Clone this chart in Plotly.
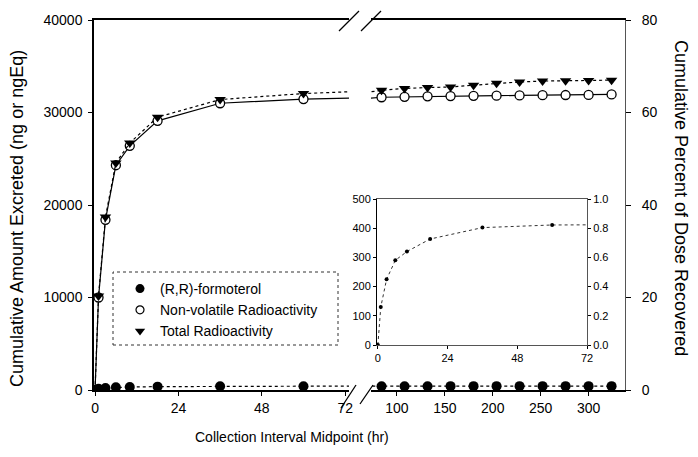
import plotly.graph_objects as go

# ---------------- data ----------------
TIME_H = [0, 1, 3, 6, 10, 18, 36, 60, 84, 108, 132, 156, 180, 204, 228, 252, 276, 300, 324]
FORMOTEROL_NG = [0, 130, 225, 290, 320, 363, 402, 411, 412, 413, 414, 415, 416, 416, 417, 417, 418, 418, 418]
NONVOLATILE_NGEQ = [0, 10000, 18400, 24300, 26400, 29100, 31000, 31450, 31650, 31700, 31750,
                    31780, 31800, 31820, 31850, 31870, 31890, 31900, 31950]
TOTAL_NGEQ = [0, 10150, 18700, 24550, 26700, 29500, 31400, 32050, 32400, 32600, 32700,
              32750, 32950, 33150, 33300, 33400, 33420, 33450, 33500]
DOSE_NGEQ = 50000

SERIES_NAMES = ["(R,R)-formoterol", "Non-volatile Radioactivity", "Total Radioactivity"]
LEFT_X_TICKS = [0, 24, 48, 72]
RIGHT_X_TICKS = [100, 150, 200, 250, 300]
Y_TICKS = [0, 10000, 20000, 30000, 40000]
INSET_X_TICKS = [0, 24, 48, 72]
INSET_Y_TICKS = [0, 100, 200, 300, 400, 500]

X_TITLE = "Collection Interval Midpoint (hr)"
Y_TITLE = "Cumulative Amount Excreted (ng or ngEq)"
Y2_TITLE = "Cumulative Percent of Dose Recovered"

# ---------------- layout geometry (pixels) ----------------
W, H = 698, 457
L, R, T, B = 94, 625, 20, 390
PW, PH = R - L, B - T


def px(x):
    return (x - L) / PW


def py(y):
    return (B - y) / PH


FONT = "Liberation Sans, Arial, sans-serif"
BLACK = "black"

fig = go.Figure()

# main panels: same series in both halves of the broken axis
for xa, ya in (("x", "y"), ("x2", "y2")):
    fig.add_trace(go.Scatter(
        x=TIME_H, y=NONVOLATILE_NGEQ, mode="lines+markers", xaxis=xa, yaxis=ya,
        line=dict(color=BLACK, width=1.2),
        marker=dict(symbol="circle", size=9, color="white", line=dict(color=BLACK, width=1.3)),
        showlegend=False))
    fig.add_trace(go.Scatter(
        x=TIME_H, y=TOTAL_NGEQ, mode="lines+markers", xaxis=xa, yaxis=ya,
        line=dict(color=BLACK, width=1.2, dash="dot"),
        marker=dict(symbol="triangle-down", size=10, color=BLACK),
        showlegend=False))
    fig.add_trace(go.Scatter(
        x=TIME_H, y=FORMOTEROL_NG, mode="lines+markers", xaxis=xa, yaxis=ya,
        line=dict(color=BLACK, width=1.2, dash="dot"),
        marker=dict(symbol="circle", size=10, color=BLACK),
        showlegend=False))

# inset: formoterol only (left scale ng, right scale % of dose share one range)
fig.add_trace(go.Scatter(
    x=TIME_H, y=FORMOTEROL_NG, mode="lines", xaxis="x3", yaxis="y3",
    line=dict(color="rgba(0,0,0,0)", width=0), hoverinfo="skip", showlegend=False))
fig.add_trace(go.Scatter(
    x=TIME_H, y=FORMOTEROL_NG, mode="lines+markers", xaxis="x3", yaxis="y4",
    line=dict(color="#333", width=1, dash="dot"),
    marker=dict(symbol="circle", size=4, color=BLACK),
    showlegend=False))

# legend entries (markers only)
legend_styles = [
    dict(symbol="circle", size=9, color=BLACK),
    dict(symbol="circle-open", size=8, color=BLACK, line=dict(width=1.2)),
    dict(symbol="triangle-down", size=9, color=BLACK),
]
for name, mk in zip(SERIES_NAMES, legend_styles):
    fig.add_trace(go.Scatter(x=[None], y=[None], mode="markers", name=name, marker=mk,
                             xaxis="x", yaxis="y", showlegend=True))

axis_common = dict(showgrid=False, zeroline=False, ticks="outside", linecolor=BLACK,
                   tickcolor=BLACK, tickfont=dict(family=FONT, size=14, color=BLACK))
inset_font = dict(family=FONT, size=11, color=BLACK)

pct_main = [f"{v / DOSE_NGEQ * 100:.0f}" for v in Y_TICKS]
pct_inset = [f"{v / DOSE_NGEQ * 100:.1f}" for v in INSET_Y_TICKS]

fig.update_layout(
    width=W, height=H,
    margin=dict(l=L, r=W - R, t=T, b=H - B),
    paper_bgcolor="white", plot_bgcolor="white",
    font=dict(family=FONT, color=BLACK),
    xaxis=dict(domain=[0, px(349)], anchor="y", range=[-0.3, 73.1], tickvals=LEFT_X_TICKS,
               showline=True, mirror=True, linewidth=1.5, ticklen=4, **axis_common),
    xaxis2=dict(domain=[px(371), 1], anchor="y2", range=[73, 338], tickvals=RIGHT_X_TICKS,
                showline=True, mirror=True, linewidth=1.5, ticklen=4, **axis_common),
    yaxis=dict(domain=[0, 1], anchor="x", range=[0, 40000], tickvals=Y_TICKS, tickformat="d",
               showline=True, linewidth=1.5, ticklen=4, ticklabelstandoff=3, **axis_common),
    yaxis2=dict(domain=[0, 1], anchor="x2", side="right", range=[0, 40000], tickvals=Y_TICKS,
                ticktext=pct_main, showline=True, linewidth=1, ticklen=5,
                ticklabelstandoff=8, **{**axis_common, "linecolor": "#555"}),
    xaxis3=dict(domain=[px(377), px(587)], anchor="y3", range=[-0.3, 72], tickvals=INSET_X_TICKS,
                showline=True, mirror=True, linewidth=1, ticklen=3,
                **{**axis_common, "linecolor": "#555", "tickfont": inset_font}),
    yaxis3=dict(domain=[py(345), py(199)], anchor="x3", range=[0, 500], tickvals=INSET_Y_TICKS,
                showline=True, linewidth=1, ticklen=3,
                **{**axis_common, "tickfont": inset_font}),
    yaxis4=dict(overlaying="y3", anchor="x3", side="right", range=[0, 500],
                tickvals=INSET_Y_TICKS, ticktext=pct_inset, showline=True, linewidth=1, ticklen=3,
                **{**axis_common, "linecolor": "#555", "tickfont": inset_font}),
    showlegend=True,
    legend=dict(x=px(120), y=py(273), xanchor="left", yanchor="top",
                bgcolor="rgba(0,0,0,0)", borderwidth=0,
                font=dict(family=FONT, size=14, color=BLACK), tracegroupgap=0),
)

# legend frame (dotted)
fig.add_shape(type="rect", xref="paper", yref="paper",
              x0=px(113), x1=px(338), y0=py(345), y1=py(272),
              line=dict(color="#333", width=1, dash="dot"))

# axis-break slashes
for (x0, y0, x1, y1) in [(339, 31, 359, 11), (361, 31, 381, 11),
                         (341, 408, 356, 385), (360, 404, 373, 385)]:
    fig.add_shape(type="line", xref="paper", yref="paper",
                  x0=px(x0), y0=py(y0), x1=px(x1), y1=py(y1),
                  line=dict(color=BLACK, width=1.3))

# axis titles
fig.add_annotation(text=X_TITLE, xref="paper", yref="paper", x=px(292), y=py(437),
                   xanchor="center", yanchor="middle",
                   showarrow=False, font=dict(family=FONT, size=14, color=BLACK))
fig.add_annotation(text=Y_TITLE, xref="paper", yref="paper", x=px(17), y=py(219),
                   xanchor="center", yanchor="middle",
                   textangle=-90, showarrow=False, font=dict(family=FONT, size=18, color=BLACK))
fig.add_annotation(text=Y2_TITLE, xref="paper", yref="paper", x=px(681), y=py(198),
                   xanchor="center", yanchor="middle",
                   textangle=90, showarrow=False, font=dict(family=FONT, size=18, color=BLACK))

fig.write_html("out.html")
